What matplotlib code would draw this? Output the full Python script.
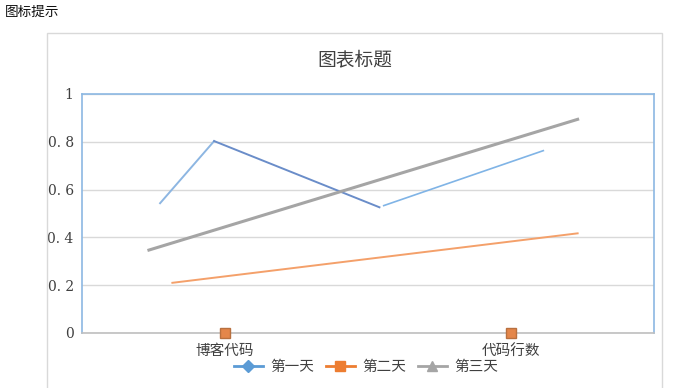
import matplotlib.pyplot as plt
from matplotlib.lines import Line2D
from matplotlib.patches import Rectangle

plt.rcParams['font.family'] = ['Noto Sans CJK SC', 'DejaVu Sans']

categories = ['博客代码', '代码行数']
series_names = ['第一天', '第二天', '第三天']

# day 1 is drawn as three pieces in the original
day1_a_x = [-0.227, -0.038]
day1_a_y = [0.543, 0.803]
day1_b_x = [-0.038, 0.540]
day1_b_y = [0.803, 0.526]
day1_c_x = [0.555, 1.113]
day1_c_y = [0.533, 0.763]
day2_x = [-0.184, 1.233]
day2_y = [0.21, 0.417]
day2_marker_y = [0, 0]
day3_x = [-0.266, 1.233]
day3_y = [0.347, 0.894]

yticks = [0, 0.2, 0.4, 0.6, 0.8, 1]
ytick_labels = ['0', '0. 2', '0. 4', '0. 6', '0. 8', '1']

fig = plt.figure(figsize=(6.79, 3.88), dpi=100)
fig.patches.append(Rectangle((47 / 679, -0.01), 615 / 679, 1 - 33 / 388 + 0.01,
                             transform=fig.transFigure, fill=False,
                             edgecolor='#d9d9d9', linewidth=1))
fig.text(5 / 679, 1 - 12 / 388, '图标提示', fontsize=9.8, va='center', ha='left', color='#111111')
fig.text(354.5 / 679, 1 - 60 / 388, '图表标题', fontsize=13.5, va='center', ha='center',
         color='#404040')

ax = fig.add_axes([82 / 679, 1 - 333 / 388, 572 / 679, 239 / 388])

ax.plot(day1_a_x, day1_a_y, color='#8db6e2', lw=1.4)
ax.plot(day1_b_x, day1_b_y, color='#6a8dc9', lw=1.4)
ax.plot(day1_c_x, day1_c_y, color='#80b4e6', lw=1.2)
ax.plot(day2_x, day2_y, color='#f4a06a', lw=1.4)
ax.plot(day3_x, day3_y, color='#a5a5a5', lw=2.2)
ax.plot([0, 1], day2_marker_y, ls='none', marker='s', markersize=7,
        color='#e4864a', markeredgecolor='#b8703f', clip_on=False, zorder=5)

ax.set_xlim(-0.5, 1.5)
ax.set_ylim(0, 1)
ax.set_yticks(yticks)
ax.set_yticklabels(ytick_labels, fontsize=10, family=['DejaVu Serif'], color='#404040')
ax.set_xticks([0, 1])
ax.set_xticklabels(categories, fontsize=10.5, color='#404040')
ax.tick_params(length=0, pad=6)
ax.tick_params(axis='x', pad=8)
ax.grid(axis='y', color='#d9d9d9', lw=1)
ax.set_axisbelow(True)
for side in ['left', 'top', 'right']:
    ax.spines[side].set_color('#8cb8e3')
    ax.spines[side].set_linewidth(1.2)
ax.spines['bottom'].set_color('#bfbfbf')
ax.spines['bottom'].set_linewidth(1.2)

handles = [
    Line2D([], [], color='#5b9bd5', lw=2, marker='D', markersize=6),
    Line2D([], [], color='#ed7d31', lw=2, marker='s', markersize=7),
    Line2D([], [], color='#a5a5a5', lw=2, marker='^', markersize=7),
]
fig.legend(handles, series_names, loc='center', bbox_to_anchor=(366 / 679, 1 - 367 / 388),
           ncol=3, frameon=False, fontsize=10.5, handlelength=2.0, columnspacing=0.8,
           handletextpad=0.5, labelcolor='#404040')

fig.savefig('out.png', dpi=100)
